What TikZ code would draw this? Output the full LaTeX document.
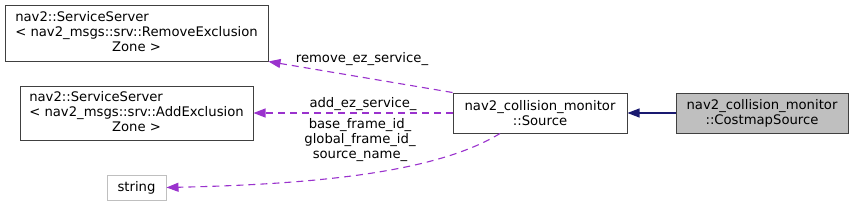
\documentclass[tikz,border=0pt]{standalone}
\usepackage{fontspec}
\setmainfont{DejaVu Sans}
\usetikzlibrary{arrows.meta}
\definecolor{usepurple}{HTML}{9A32CD}
\definecolor{inhblue}{HTML}{191970}
\definecolor{curgray}{HTML}{BFBFBF}

\begin{document}
\begin{tikzpicture}[
        x=1pt, y=-1pt,
        font={\fontsize{13.2}{15}\selectfont},
        % Klassen
        cls/.style={
            rectangle, draw=black!75, fill=white, line width=1pt,
            inner sep=0pt, align=center
        },
        % Aktuelle Klasse
        cur/.style={cls, fill=curgray},
        % Externer Typ
        ext/.style={cls, draw=curgray},
        % Benutzung
        use/.style={
            -{Triangle[length=12pt,width=9pt]}, line width=1.1pt,
            draw=usepurple, dash pattern=on 7pt off 5pt
        },
        % Vererbung
        inh/.style={
            -{Triangle[length=12pt,width=9pt]}, line width=1.1pt,
            draw=inhblue
        },
        lbl/.style={inner sep=0pt, align=center}
    ]
        \useasboundingbox (0,0) rectangle (855,207);

        % Klassen links
        \node [cls, minimum width=263pt, minimum height=56pt] (remove) at (136.5,33)
            {\begin{tabular}{@{}l@{}}nav2::ServiceServer\\< nav2\_msgs::srv::RemoveExclusion\\\multicolumn{1}{@{}c@{}}{Zone >}\end{tabular}};
        \node [cls, minimum width=233pt, minimum height=54pt] (add) at (136.5,113)
            {\begin{tabular}{@{}l@{}}nav2::ServiceServer\\< nav2\_msgs::srv::AddExclusion\\\multicolumn{1}{@{}c@{}}{Zone >}\end{tabular}};
        \node [ext, minimum width=59pt, minimum height=25pt] (string) at (136.5,187.5) {string};

        % Basisklasse und aktuelle Klasse
        \node [cls, minimum width=174pt, minimum height=40pt] (source) at (540,113)
            {nav2\_collision\_monitor\\::Source};
        \node [cur, minimum width=172pt, minimum height=40pt] (costmap) at (762,113)
            {nav2\_collision\_monitor\\::CostmapSource};

        % Pfeile
        \draw [inh] (costmap.west) -- (source.east);
        \draw [use] (source.north west) -- (remove.south east);
        \draw [use] (source.west) -- (add.east);
        \draw [use] ([xshift=-40pt]source.south) .. controls (440,170) and (330,184) .. (string.east);

        % Beschriftungen
        \node [lbl] (lremove) at (362,59) {remove\_ez\_service\_};
        \node [lbl] (ladd) at (363,104) {add\_ez\_service\_};
        \node [lbl] (lstring) at (360,140) {base\_frame\_id\_\\global\_frame\_id\_\\source\_name\_};

    \end{tikzpicture}
\end{document}
